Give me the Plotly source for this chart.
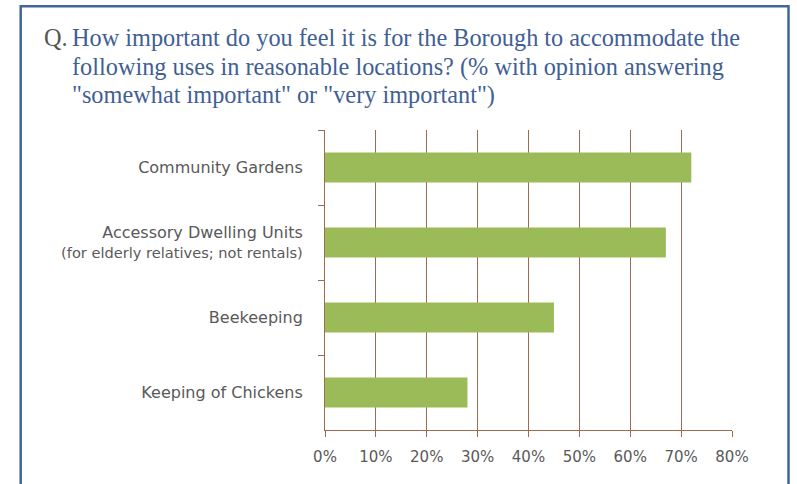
import plotly.graph_objects as go

# Survey results: share answering "somewhat" or "very important"
categories = [
    "Community Gardens",
    "Accessory Dwelling Units<br><span style='font-size:14.6px'>(for elderly relatives; not rentals)</span>",
    "Beekeeping",
    "Keeping of Chickens",
]
values = [72, 67, 45, 28]
x_ticks = [0, 10, 20, 30, 40, 50, 60, 70, 80]
x_tick_labels = [f"{v}%" for v in x_ticks]

question_prefix = "Q."
question_lines = [
    "How important do you feel it is for the Borough to accommodate the",
    "following uses in reasonable locations? (% with opinion answering",
    "\"somewhat important\" or \"very important\")",
]

W, H = 797, 484
M_L, M_R, M_T, M_B = 325, 65, 130, 54
PLOT_W = W - M_L - M_R
PLOT_H = H - M_T - M_B

BROWN = "#9B6B52"
GREEN = "#9BBB59"
BLUE = "#41669A"
TITLE_BLUE = "#3F6094"
LABEL_GREY = "#595959"

TITLE_SIZE = 24.3
TITLE_BASELINES = [45, 74.5, 102.5]


def px_x(px):
    """Pixel column -> paper x coordinate."""
    return (px - M_L) / PLOT_W


def px_y(py):
    """Pixel row (from top) -> paper y coordinate."""
    return (H - M_B - py) / PLOT_H


fig = go.Figure(
    go.Bar(
        x=values,
        y=categories,
        orientation="h",
        width=0.4,
        marker=dict(color=GREEN, line=dict(width=0)),
        hoverinfo="skip",
    )
)

title_annotations = [
    dict(
        text=question_prefix,
        xref="paper",
        yref="paper",
        x=px_x(42),
        y=px_y(TITLE_BASELINES[0] - 23.5),
        xanchor="left",
        yanchor="top",
        showarrow=False,
        font=dict(family="Liberation Serif", size=TITLE_SIZE, color="#555555"),
    )
]
for line, base in zip(question_lines, TITLE_BASELINES):
    title_annotations.append(
        dict(
            text=line,
            xref="paper",
            yref="paper",
            x=px_x(70),
            y=px_y(base - 23.5),
            xanchor="left",
            yanchor="top",
            align="left",
            showarrow=False,
            font=dict(family="Liberation Serif", size=TITLE_SIZE, color=TITLE_BLUE),
        )
    )

fig.update_layout(
    width=W,
    height=H,
    margin=dict(l=M_L, r=M_R, t=M_T, b=M_B, autoexpand=False),
    paper_bgcolor="white",
    plot_bgcolor="white",
    showlegend=False,
    font=dict(family="DejaVu Sans", color=LABEL_GREY),
    xaxis=dict(
        range=[0, 80],
        tickvals=x_ticks,
        ticktext=x_tick_labels,
        showgrid=True,
        gridcolor=BROWN,
        gridwidth=1,
        showline=True,
        linecolor=BROWN,
        linewidth=1,
        ticks="outside",
        ticklen=6,
        tickcolor=BROWN,
        ticklabelstandoff=7,
        tickfont=dict(size=15, color=LABEL_GREY),
        zeroline=False,
        fixedrange=True,
    ),
    yaxis=dict(
        type="category",
        autorange="reversed",
        showgrid=False,
        showline=True,
        linecolor=BROWN,
        linewidth=1,
        ticks="outside",
        tickson="boundaries",
        ticklen=6,
        tickcolor=BROWN,
        ticklabelstandoff=18,
        tickfont=dict(size=16, color=LABEL_GREY),
        fixedrange=True,
    ),
    shapes=[
        dict(
            type="rect",
            xref="paper",
            yref="paper",
            x0=px_x(20.7),
            x1=px_x(788.5),
            y0=px_y(520),
            y1=px_y(6.2),
            line=dict(color=BLUE, width=2.5),
            fillcolor="rgba(0,0,0,0)",
            layer="above",
        )
    ],
    annotations=title_annotations,
)

fig.write_html("out.html")
